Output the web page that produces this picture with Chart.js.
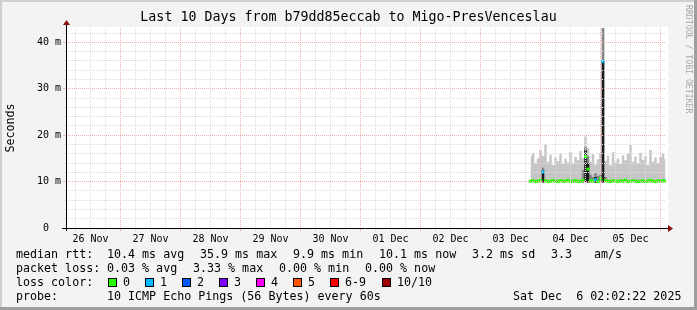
<!DOCTYPE html>
<html><head><meta charset="utf-8">
<script src="https://cdn.jsdelivr.net/npm/chart.js@4.4.0/dist/chart.umd.min.js"></script>
<style>
html,body{margin:0;padding:0;background:#f3f3f3;}
#wrap{position:relative;width:697px;height:310px;overflow:hidden;}
#c{position:absolute;left:0;top:0;}
.t{position:absolute;font-family:"DejaVu Sans Mono",monospace;font-size:11.67px;line-height:14px;color:#000;white-space:pre;}
.box{position:absolute;width:7px;height:7px;border:1px solid #000;}
#wm{position:absolute;left:684px;top:5px;font-family:"DejaVu Sans Mono",monospace;font-size:8.2px;line-height:9px;color:#a8a8a8;writing-mode:vertical-rl;white-space:pre;}
</style></head>
<body><div id="wrap"><canvas id="c" width="697" height="310"></canvas><div id="wm">RRDTOOL / TOBI OETIKER</div></div>
<script>
// ---- data (hours since 26 Nov 00:00) ----
const times = [
 188,189,190,191,192,193,194,195,196,197,198,
 199,200,201,202,203,204,205,206,207,208,209,
 210,211,212,213,214,215,216,217,218,219,220,
 221,222,223,224,225,226,227,228,229,230,231,
 232,233,234,235,236,237,238,239,240,241,242];
const smokeMin = [
 9.8,9.9,9.8,9.8,9.9,9.8,9.9,9.8,9.8,9.9,9.8,
 9.8,9.9,9.8,9.9,9.8,9.8,9.9,9.8,9.8,9.9,9.8,
 9.9,9.8,9.8,9.9,9.8,9.8,9.9,9.8,9.9,9.8,9.8,
 9.9,9.8,9.8,9.9,9.8,9.9,9.8,9.8,9.9,9.8,9.8,
 9.9,9.8,9.9,9.8,9.8,9.9,9.8,9.8,9.9,9.8,9.9];
const smokeMax = [
 15.4,16.2,14.0,15.0,16.8,15.5,18.0,14.2,15.8,13.6,15.2,
 14.4,16.0,13.8,15.0,14.1,16.4,13.9,15.3,14.6,16.6,15.1,
 19.7,17.2,14.3,15.9,13.7,14.8,16.1,45.0,14.5,15.6,13.5,
 16.3,14.1,15.0,13.8,15.7,14.6,16.0,17.9,14.2,15.4,13.9,
 16.2,14.7,15.5,13.6,16.8,14.3,15.2,14.0,15.3,16.0,14.8];
const smokeMid = [
 null,null,null,null,null,13.0,null,null,null,null,null,
 null,null,null,null,null,null,null,null,null,null,12.5,
 17.5,15.5,11.5,11.0,11.8,11.2,11.5,45.0,11.0,null,null,
 null,null,null,null,null,null,null,null,null,null,null,
 null,null,null,null,null,null,null,null,null,null,null];
const smokeDark = [
 null,null,null,null,null,12.4,null,null,null,null,null,
 null,null,null,null,null,null,null,null,null,null,null,
 16.8,14.0,null,null,11.0,null,null,36.2,null,null,null,
 null,null,null,null,null,null,null,null,null,null,null,
 null,null,null,null,null,null,null,null,null,null,null];
const median = [
 10.1,10.2,10.0,10.1,10.3,12.1,10.2,10.0,10.1,10.2,10.1,
 10.0,10.2,10.1,10.1,10.3,10.0,10.1,10.2,10.0,10.1,10.3,
 15.4,12.7,10.2,10.1,10.4,10.0,10.6,35.9,10.2,10.1,10.0,
 10.2,10.1,10.0,10.2,10.1,10.3,10.0,10.1,10.2,10.1,10.0,
 10.1,10.2,10.0,10.1,10.3,10.1,10.0,10.2,10.1,10.2,10.1];
const loss = [
 0,0,0,0,0,1,0,0,0,0,0,
 0,0,0,0,0,0,0,0,0,0,0,
 0,0,0,0,1,0,0,1,0,0,0,
 0,0,0,0,0,0,0,0,0,0,0,
 0,0,0,0,0,0,0,0,0,0,0];

const dayLabels = ['26 Nov','27 Nov','28 Nov','29 Nov','30 Nov','01 Dec','02 Dec','03 Dec','04 Dec','05 Dec'];
const dayLabelHours = [12,36,60,84,108,132,156,180,204,228];
const yTickValues = [0,2,4,6,8,10,12,14,16,18,20,22,24,26,28,30,32,34,36,38,40,42];
const yLabelValues = [0,10,20,30,40];
const yLabelTexts = ['0  ','10 m','20 m','30 m','40 m'];
const lossColors = ['#26ff00','#00b8ff','#0059ff','#7e00ff','#ff00ff','#ff5500','#ff0000','#a10000'];
const lossLabels = ['0','1','2','3','4','5','6-9','10/10'];

const titleText = 'Last 10 Days from b79dd85eccab to Migo-PresVenceslau';
const rowMedian = ['median rtt:','10.4 ms avg','35.9 ms max','9.9 ms min','10.1 ms now','3.2 ms sd','3.3','am/s'];
const rowLoss = ['packet loss:','0.03 % avg','3.33 % max','0.00 % min','0.00 % now'];
const rowProbe = ['probe:','10 ICMP Echo Pings (56 Bytes) every 60s','Sat Dec  6 02:02:22 2025'];

// ---- layout ----
const xMin = 2.2, xMax = 242.2;
const RED = '#f7b0b0', GRAY = '#dcdcdc';
const gridHours = [];
for (let h = 6; h <= 240; h += 6) gridHours.push(h);

const wrap = document.getElementById('wrap');
function addText(x, y, s){ const d=document.createElement('div'); d.className='t'; d.style.left=x+'px'; d.style.top=y+'px'; d.textContent=s; wrap.appendChild(d); }
const xMed = [16,107,200,293,379,472,551,594];
rowMedian.forEach((s,i)=>addText(xMed[i],247,s));
const xLoss = [16,107,193,279,365];
rowLoss.forEach((s,i)=>addText(xLoss[i],261,s));
addText(16,275,'loss color:');
const boxX = [108,145,182,219,256,293,330,382];
const labX = [123,160,197,234,271,308,345,397];
lossColors.forEach((c,i)=>{ const b=document.createElement('div'); b.className='box'; b.style.left=boxX[i]+'px'; b.style.top='278px'; b.style.background=c; wrap.appendChild(b); addText(labX[i],275,lossLabels[i]); });
const xProbe = [16,107,513];
rowProbe.forEach((s,i)=>addText(xProbe[i],289,s));

const pts = arr => times.map((t,i)=>({x:t, y:(arr[i]===null ? smokeMin[i] : arr[i])}));

const framePlugin = {
  id:'frame',
  beforeDraw(chart){
    const c = chart.ctx, a = chart.chartArea;
    c.save();
    c.fillStyle='#f3f3f3'; c.fillRect(0,0,697,310);
    c.fillStyle='#cfcfcf'; c.fillRect(0,0,697,2); c.fillRect(0,0,2,310);
    c.fillStyle='#9e9e9e'; c.fillRect(0,307,697,3); c.fillRect(694,0,3,310);
    c.fillStyle='#ffffff'; c.fillRect(a.left, a.top-1, a.right-a.left+2, a.bottom-a.top+1);
    c.restore();
  },
  afterDraw(chart){
    const c = chart.ctx, a = chart.chartArea;
    c.save();
    c.strokeStyle='#000'; c.lineWidth=1;
    c.beginPath(); c.moveTo(a.left-4, a.bottom+0.5); c.lineTo(a.right+3, a.bottom+0.5); c.stroke();
    c.beginPath(); c.moveTo(a.left+0.5, a.bottom+3); c.lineTo(a.left+0.5, a.top-4); c.stroke();
    c.fillStyle='#8b1010';
    c.beginPath(); c.moveTo(a.right+2, a.bottom-3); c.lineTo(a.right+7, a.bottom+0.5); c.lineTo(a.right+2, a.bottom+4); c.closePath(); c.fill();
    c.beginPath(); c.moveTo(a.left-3, a.top-3); c.lineTo(a.left+0.5, a.top-8); c.lineTo(a.left+4, a.top-3); c.closePath(); c.fill();
    c.restore();
  }
};

const lineDs = (arr, color, order) => ({
  type:'line', data: pts(arr), borderWidth:0, borderColor:'rgba(0,0,0,0)', pointRadius:0,
  stepped:'middle', fill: 0, backgroundColor: color, order
});

new Chart(document.getElementById('c'), {
  type:'bar',
  data:{ datasets:[
    { type:'line', data: pts(smokeMin), borderWidth:0, borderColor:'rgba(0,0,0,0)', pointRadius:0, stepped:'middle', fill:false, order:4 },
    lineDs(smokeMax, '#c6c6c6', 3),
    lineDs(smokeMid, '#858585', 2),
    lineDs(smokeDark, '#1c1c1c', 1),
    { type:'bar', data: times.map((t,i)=>({x:t, y:[median[i]-0.25, median[i]+0.25]})),
      backgroundColor: loss.map(l=>lossColors[l]), borderWidth:0, barPercentage:1, categoryPercentage:1, grouped:false, order:0 }
  ]},
  options:{
    responsive:false, animation:false, devicePixelRatio:1,
    layout:{ padding:{ left:0, right:0, top:0, bottom:0 } },
    plugins:{
      legend:{display:false}, tooltip:{enabled:false},
      title:{ display:true, text:titleText, color:'#000', font:{family:'DejaVu Sans Mono', size:13.3, weight:'normal', lineHeight:'16px'}, padding:{top:10,bottom:2} }
    },
    scales:{
      x:{ type:'linear', min:xMin, max:xMax, offset:false, position:'bottom',
        afterBuildTicks: s => { s.ticks = gridHours.map(v=>({value:v})); },
        afterFit: s => { s.height = 82; s.paddingLeft = 0; s.paddingRight = 0; },
        grid:{ z:1, color: c => (c.tick && c.tick.value % 24 === 0) ? RED : GRAY, lineWidth:1, tickLength:3, offset:false },
        border:{ display:false, dash:[1,1] },
        ticks:{ autoSkip:false, maxRotation:0, minRotation:0, padding:2, color:'#000',
          font:{family:'DejaVu Sans Mono', size:10},
          callback: v => { const k = dayLabelHours.indexOf(v); return k >= 0 ? dayLabels[k] : ''; } }
      },
      y:{ type:'linear', min:0, max:43.1, position:'left',
        afterBuildTicks: s => { s.ticks = yTickValues.map(v=>({value:v})); },
        afterFit: s => { s.width = 66; s.paddingTop = 0; s.paddingBottom = 0; },
        grid:{ z:1, color: c => (c.tick && c.tick.value % 10 === 0) ? RED : GRAY, lineWidth:1, tickLength:3 },
        border:{ display:false, dash:[1,1] },
        ticks:{ autoSkip:false, padding:2, color:'#000', font:{family:'DejaVu Sans Mono', size:10},
          callback: v => { const k = yLabelValues.indexOf(v); return k >= 0 ? yLabelTexts[k] : ''; } },
        title:{ display:true, text:'Seconds', color:'#000', font:{family:'DejaVu Sans Mono', size:11.67}, padding:{top:4,bottom:0} }
      },
      yRight:{ type:'linear', position:'right', min:0, max:43.1, display:true,
        afterFit: s => { s.width = 31; s.paddingTop = 0; s.paddingBottom = 0; },
        grid:{ display:false, drawTicks:false }, border:{ display:false },
        ticks:{ display:false }
      }
    }
  },
  plugins:[framePlugin]
});
</script>
</body></html>
